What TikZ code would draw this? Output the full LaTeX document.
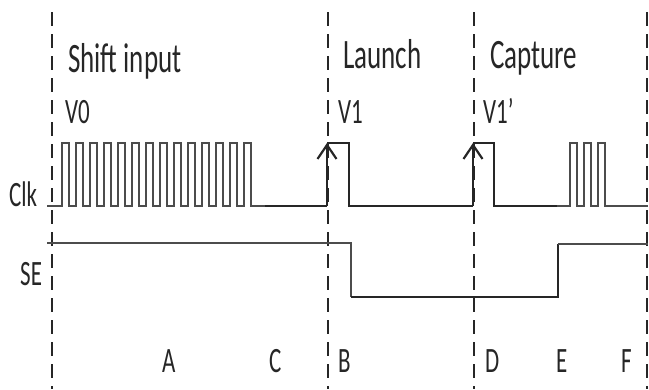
\documentclass[tikz,border=0pt]{standalone}
\usepackage{fontspec}
\usepackage{tikz}
\setmainfont{Carlito}
\usetikzlibrary{arrows.meta, positioning}
\newcommand{\tallText}[1]{\scalebox{1}[1.55]{#1}}

\begin{document}
\begin{tikzpicture}[
    x=1pt, y=-1pt,
    label/.style={inner sep=0, anchor=base west, font=\fontsize{23}{23}\selectfont, text=black!85},
    phase/.style={inner sep=0, anchor=base west, font=\fontsize{27}{27}\selectfont, text=black!85},
    thinwave/.style={draw=black!70, line width=1.1pt},
    thickwave/.style={draw=black!85, line width=2.8pt},
    edgearrow/.style={thickwave, -{Straight Barb[length=14pt, width=19pt, line width=2.2pt]}},
    divider/.style={draw=black!85, line width=1.8pt, dash pattern=on 14pt off 8pt}
]
\useasboundingbox (0,0) rectangle (649,389);

% Phase boundaries
\draw[divider] (52,12) -- (52,389);
\draw[divider] (328,12) -- (328,389);
\draw[divider] (474,12) -- (474,389);
\draw[divider] (647,12) -- (647,389);

% Phase titles and vectors
\node[phase] (shift) at (68,72) {\tallText{Shift input}};
\node[phase] (launch) at (343,68) {\tallText{Launch}};
\node[phase] (capture) at (490,68) {\tallText{Capture}};
\node[label] (v0) at (65,123) {\tallText{V0}};
\node[label] (v1) at (338,123) {\tallText{V1}};
\node[label] (v1p) at (483,123) {\tallText{V1\symbol{"0027}}};

% Signal names
\node[label] (clk) at (9,206) {\tallText{Clk}};
\node[label] (se) at (20,285) {\tallText{SE}};

% Clk: shift pulses
\draw[thinwave] (47,206) \foreach \k in {0,...,13} {
    -- ({62+14*\k},206) |- ({69+14*\k},143) -- ({69+14*\k},206)
} -- (265,206);
% Clk: launch and capture
\draw[thickwave] (265,206) -- (327,206);
\draw[edgearrow] (327,206) -- (327,143);
\draw[thickwave] (327,143) -- (349,143) -- (349,206) -- (473,206);
\draw[edgearrow] (473,206) -- (473,143);
\draw[thickwave] (473,143) -- (494,143) -- (494,206) -- (557,206);
% Clk: shift out
\draw[thinwave] (557,206) \foreach \k in {0,1,2} {
    -- ({570+14*\k},206) |- ({577+14*\k},143) -- ({577+14*\k},206)
} -- (648,206);

% SE
\draw[thinwave] (47,243) -- (351,243) -- (351,297);
\draw[thickwave] (351,297) -- (558,297) -- (558,244);
\draw[thinwave] (558,244) -- (648,244);

% Intervals
\node[label] (a) at (162,372) {\tallText{A}};
\node[label] (c) at (269,372) {\tallText{C}};
\node[label] (b) at (338,372) {\tallText{B}};
\node[label] (d) at (485,372) {\tallText{D}};
\node[label] (e) at (556,372) {\tallText{E}};
\node[label] (f) at (621,372) {\tallText{F}};
\end{tikzpicture}
\end{document}
